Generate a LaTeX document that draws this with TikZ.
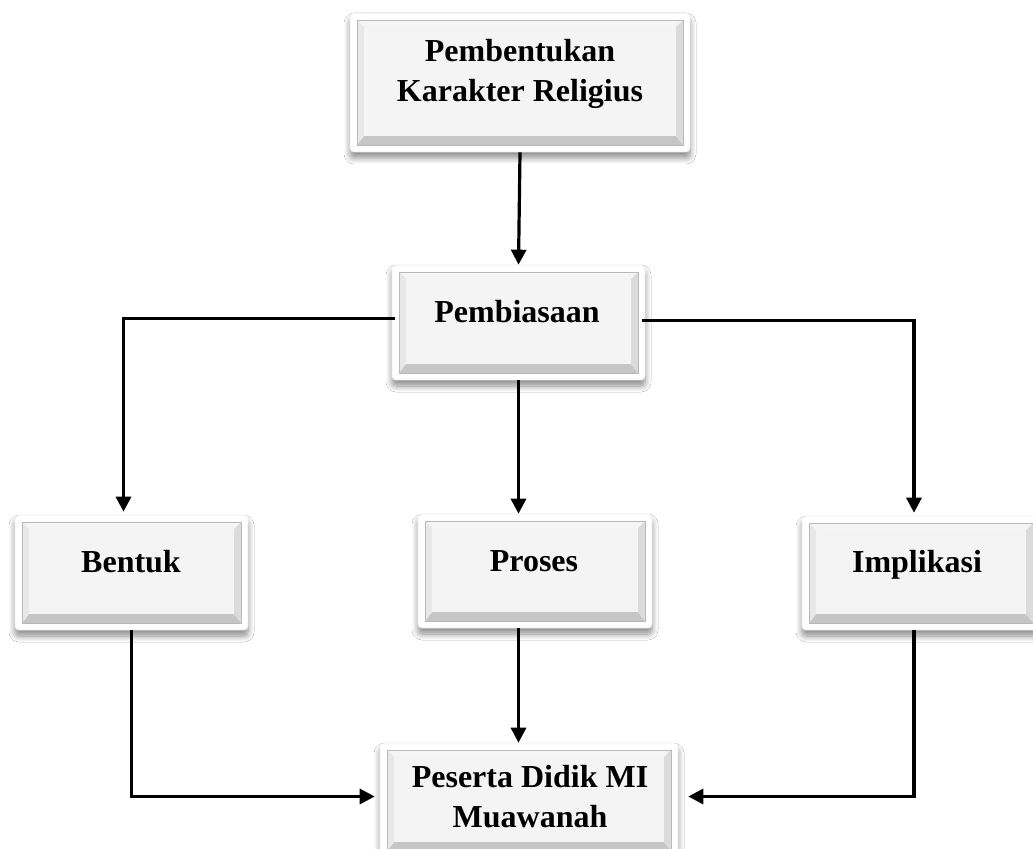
\documentclass[tikz,border=0pt]{standalone}
\usepackage{fontspec}
\setmainfont{Liberation Serif}
\usetikzlibrary{fit,calc,shadows.blur,arrows.meta}
\definecolor{face}{HTML}{F4F4F4}
\tikzset{
  outerbox/.style={draw=gray!15, line width=0.3pt, fill=white, rounded corners=2pt, inner sep=0pt,
    blur shadow={shadow xshift=0pt, shadow yshift=-3pt, shadow blur steps=8, shadow blur radius=3pt, shadow opacity=45}},
  lbl/.style={font=\bfseries\fontsize{16}{20}\selectfont, align=center, inner sep=0pt},
  conn/.style={line width=1.6pt},
  arr/.style={conn, -{Triangle[length=7.5pt,width=7.5pt]}},
}
\newcommand\bevelbox[5]{%
  \coordinate (#1nw) at (#2,#3);
  \coordinate (#1se) at (#4,#5);
  \node[outerbox, fit=(#1nw)(#1se)] (#1) {};
  \coordinate (#1a) at ($(#1nw)+(7,7)$);
  \coordinate (#1b) at ($(#1se)+(-7,-7)$);
  \coordinate (#1c) at ($(#1nw)+(14,14)$);
  \coordinate (#1d) at ($(#1se)+(-14,-16)$);
  \fill[gray!8] (#1a) -- (#1a -| #1b) -- (#1c -| #1d) -- (#1c) -- cycle;
  \fill[gray!45] (#1a |- #1b) -- (#1b) -- (#1d) -- (#1c |- #1d) -- cycle;
  \fill[gray!18] (#1a) -- (#1c) -- (#1c |- #1d) -- (#1a |- #1b) -- cycle;
  \fill[gray!28] (#1a -| #1b) -- (#1b) -- (#1d) -- (#1c -| #1d) -- cycle;
  \fill[face] (#1c) rectangle (#1d);
  \draw[gray!55, line width=0.4pt] (#1a) rectangle (#1b);
}
\begin{document}
\begin{tikzpicture}[x=0.5pt, y=-0.5pt]
\useasboundingbox (0,0) rectangle (1033,849);
\fill[white] (0,0) rectangle (1033,849);

\bevelbox{top}{350}{13}{690}{152}
\bevelbox{pemb}{392}{265}{645}{380}
\bevelbox{bentuk}{15}{515}{248}{630}
\bevelbox{proses}{418}{514}{652}{628}
\bevelbox{impl}{802}{516}{1040}{630}
\bevelbox{peserta}{380}{743}{678}{858}

\node[lbl] (topT) at (520,74) {Pembentukan\\Karakter Religius};
\node[lbl, anchor=base] (pembT) at (517,323) {Pembiasaan};
\node[lbl, anchor=base] (bentukT) at (131,573) {Bentuk};
\node[lbl, anchor=base] (prosesT) at (534,572) {Proses};
\node[lbl, anchor=base] (implT) at (917,573) {Implikasi};
\node[lbl] (pesertaT) at (530,797) {Peserta Didik MI\\Muawanah};

\draw[arr] (top.south) -- (pemb.north);
\draw[arr] ($(pemb.west)+(3,-4)$) -| ($(bentuk.north)+(-8,-3)$);
\draw[arr] ($(pemb.east)+(-3,-2)$) -| ($(impl.north)+(-7,-3)$);
\draw[arr] (pemb.south) -- (pemb.south |- proses.north);
\draw[arr] (proses.south -| pemb.south) -- (pemb.south |- peserta.north);
\draw[arr] (bentuk.south) |- ($(peserta.west)+(-5,-4)$);
\draw[arr] ($(impl.south)+(-7,0)$) |- ($(peserta.east)+(10,-4)$);
\end{tikzpicture}
\end{document}
